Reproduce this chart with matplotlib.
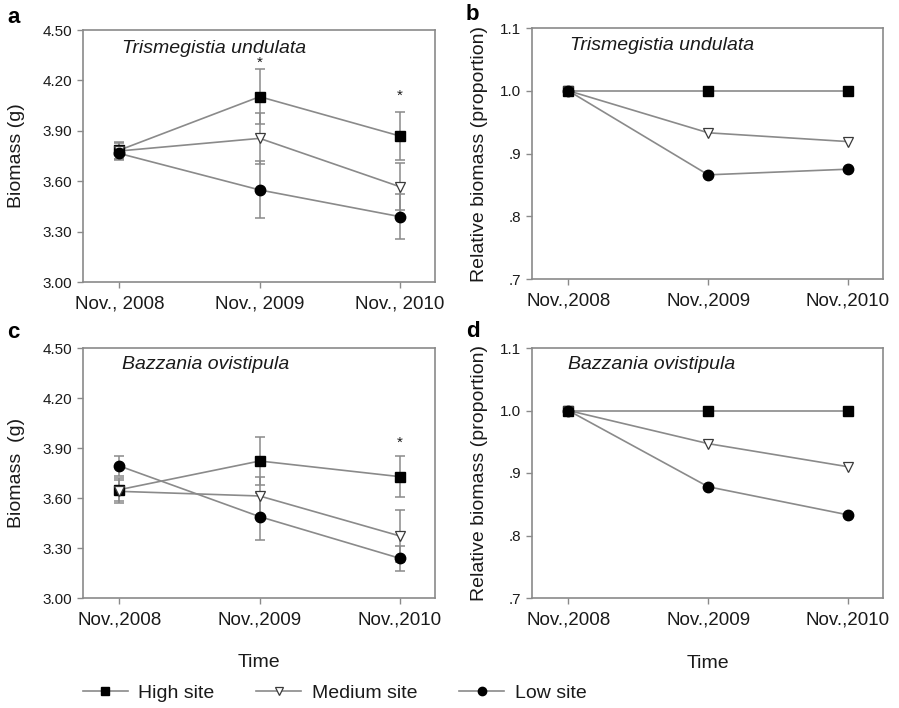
import matplotlib
matplotlib.use("Agg")
import matplotlib.pyplot as plt
from matplotlib.lines import Line2D

plt.rcParams['font.family'] = ['Liberation Sans', 'DejaVu Sans']

# ---------------- data ----------------
times = [0, 1, 2]
xlabels_a = ["Nov., 2008", "Nov., 2009", "Nov., 2010"]
xlabels = ["Nov.,2008", "Nov.,2009", "Nov.,2010"]
sites = ["High site", "Medium site", "Low site"]

# Panel a: Trismegistia undulata, biomass (g)
a_high = [3.785, 4.103, 3.869]
a_high_err = [0.05, 0.163, 0.145]
a_med = [3.780, 3.855, 3.567]
a_med_err = [0.05, 0.150, 0.140]
a_low = [3.765, 3.548, 3.389]
a_low_err = [0.04, 0.170, 0.135]
a_star_x = [1, 2]
a_star_y = [4.305, 4.11]

# Panel b: Trismegistia undulata, relative biomass
b_high = [1.0, 1.0, 1.0]
b_med = [1.0, 0.933, 0.919]
b_low = [1.0, 0.866, 0.875]

# Panel c: Bazzania ovistipula, biomass (g)
c_high = [3.650, 3.822, 3.728]
c_high_err = [0.07, 0.146, 0.124]
c_med = [3.640, 3.612, 3.372]
c_med_err = [0.07, 0.116, 0.156]
c_low = [3.792, 3.488, 3.238]
c_low_err = [0.06, 0.140, 0.075]
c_star_x = [2]
c_star_y = [3.93]

# Panel d: Bazzania ovistipula, relative biomass
d_high = [1.0, 1.0, 1.0]
d_med = [1.0, 0.947, 0.910]
d_low = [1.0, 0.878, 0.833]

yt_bio = [3.00, 3.30, 3.60, 3.90, 4.20, 4.50]
yt_rel = [0.7, 0.8, 0.9, 1.0, 1.1]
yt_rel_labels = [".7", ".8", ".9", "1.0", "1.1"]

# ---------------- style ----------------
GRAY = "#8a8a8a"
TXT = "#1a1a1a"
styles = {
    "High site": dict(marker="s", ms=6.5, mfc="black", mec="black"),
    "Medium site": dict(marker="v", ms=7.5, mfc="white", mec="#3a3a3a", mew=0.9),
    "Low site": dict(marker="o", ms=7.5, mfc="black", mec="black"),
}

W, H = 899, 708
fig = plt.figure(figsize=(W / 100, H / 100), dpi=100)

def px_axes(l, t, r, b):
    return fig.add_axes([l / W, 1 - b / H, (r - l) / W, (b - t) / H])

ax_a = px_axes(83, 30, 435, 282)
ax_b = px_axes(532, 28, 883, 279)
ax_c = px_axes(83, 348, 435, 598)
ax_d = px_axes(532, 348, 883, 598)


def style_axes(ax, xl, yticks, ylabels, ylim):
    ax.set_xlim(-0.26, 2.25)
    ax.set_ylim(*ylim)
    ax.set_xticks(times)
    ax.set_xticklabels(xl, fontsize=13.5, color=TXT)
    ax.set_yticks(yticks)
    ax.set_yticklabels(ylabels, fontsize=11, color=TXT)
    ax.tick_params(direction="out", length=4, width=1, color=GRAY, pad=4)
    ax.tick_params(axis="x", pad=6)
    for s in ax.spines.values():
        s.set_color(GRAY)
        s.set_linewidth(1.2)


def draw_series(ax, series, errs=None):
    for i, (name, vals) in enumerate(series):
        if errs is not None:
            ax.errorbar(times, vals, yerr=errs[i], fmt="none", ecolor=GRAY,
                        elinewidth=1.1, capsize=3.5, capthick=1.1, zorder=2)
    for name, vals in series:
        ax.plot(times, vals, color=GRAY, lw=1.2, zorder=3)
    for name, vals in series:
        ax.plot(times, vals, ls="none", zorder=4, **styles[name])


# panel a
draw_series(ax_a, [("High site", a_high), ("Medium site", a_med), ("Low site", a_low)],
            [a_high_err, a_med_err, a_low_err])
style_axes(ax_a, xlabels_a, yt_bio, ["%.2f" % v for v in yt_bio], (3.0, 4.5))
for x, y in zip(a_star_x, a_star_y):
    ax_a.text(x, y, "*", ha="center", va="center", fontsize=11, color=TXT)
ax_a.set_ylabel("Biomass (g)", fontsize=14, color=TXT)
ax_a.yaxis.set_label_coords(-0.165, 0.5)
ax_a.text(0.111, 0.909, "Trismegistia undulata", transform=ax_a.transAxes,
          fontsize=14, style="italic", color=TXT, va="baseline")

# panel b
draw_series(ax_b, [("High site", b_high), ("Medium site", b_med), ("Low site", b_low)])
style_axes(ax_b, xlabels, yt_rel, yt_rel_labels, (0.7, 1.1))
ax_b.set_ylabel("Relative biomass (proportion)", fontsize=14, color=TXT)
ax_b.yaxis.set_label_coords(-0.125, 0.5)
ax_b.text(0.108, 0.912, "Trismegistia undulata", transform=ax_b.transAxes,
          fontsize=14, style="italic", color=TXT, va="baseline")

# panel c
draw_series(ax_c, [("High site", c_high), ("Medium site", c_med), ("Low site", c_low)],
            [c_high_err, c_med_err, c_low_err])
style_axes(ax_c, xlabels, yt_bio, ["%.2f" % v for v in yt_bio], (3.0, 4.5))
for x, y in zip(c_star_x, c_star_y):
    ax_c.text(x, y, "*", ha="center", va="center", fontsize=11, color=TXT)
ax_c.set_ylabel("Biomass  (g)", fontsize=14, color=TXT)
ax_c.yaxis.set_label_coords(-0.165, 0.5)
ax_c.text(0.111, 0.916, "Bazzania ovistipula", transform=ax_c.transAxes,
          fontsize=14, style="italic", color=TXT, va="baseline")
ax_c.set_xlabel("Time", fontsize=14, color=TXT, labelpad=18)

# panel d
draw_series(ax_d, [("High site", d_high), ("Medium site", d_med), ("Low site", d_low)])
style_axes(ax_d, xlabels, yt_rel, yt_rel_labels, (0.7, 1.1))
ax_d.set_ylabel("Relative biomass (proportion)", fontsize=14, color=TXT)
ax_d.yaxis.set_label_coords(-0.125, 0.5)
ax_d.text(0.103, 0.916, "Bazzania ovistipula", transform=ax_d.transAxes,
          fontsize=14, style="italic", color=TXT, va="baseline")
ax_d.set_xlabel("Time", fontsize=14, color=TXT, labelpad=19)

# panel letters
for lab, x, y in [("a", 7, 23), ("b", 466, 20), ("c", 7, 338), ("d", 466, 337)]:
    fig.text(x / W, 1 - y / H, lab, fontsize=16, fontweight="bold", color="black",
             va="baseline", ha="left")

# legend
handles = [Line2D([], [], color=GRAY, lw=1.2, **{k: (v * 0.8 if k == "ms" else v)
                                                for k, v in styles[n].items()})
           for n in sites]
fig.legend(handles, sites, loc="center left", bbox_to_anchor=(83 / W, 1 - 693 / H),
           ncol=3, frameon=False, fontsize=14, handlelength=2.3, handletextpad=0.55,
           columnspacing=2.15, borderpad=0, borderaxespad=0, labelcolor=TXT)

fig.savefig("out.png", dpi=100)
